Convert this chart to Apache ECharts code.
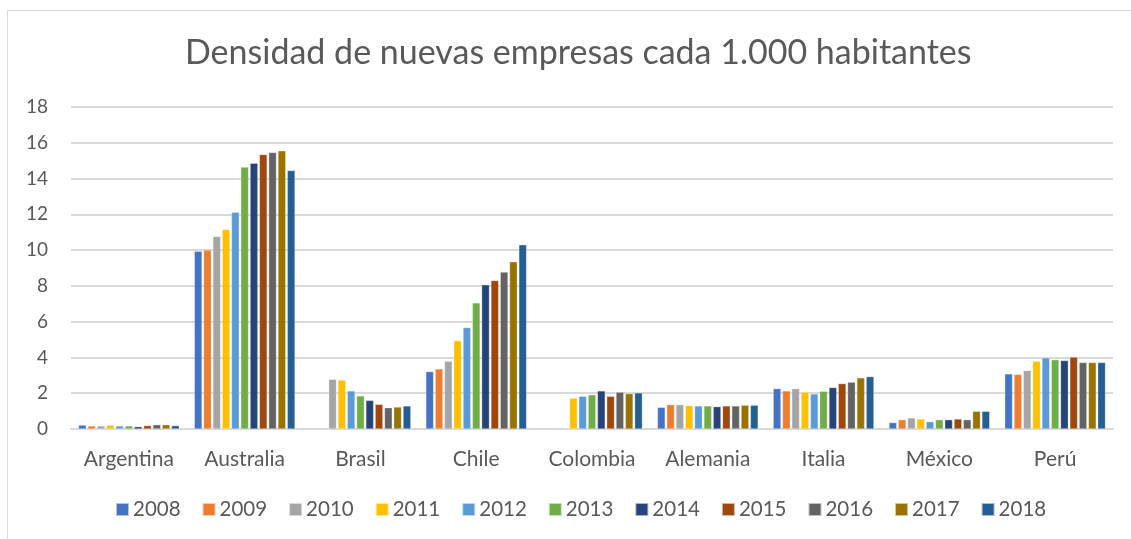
<!DOCTYPE html>
<html>
<head>
<meta charset="utf-8">
<script src="https://cdn.jsdelivr.net/npm/echarts@6/dist/echarts.min.js"></script>
<style>
  html, body { margin: 0; padding: 0; background: #fff; }
  #frame {
    position: absolute; left: 7px; top: 10px; width: 1140px; height: 540px;
    border-top: 1px solid #d9d9d9; border-left: 1px solid #d9d9d9;
  }
  #chart { position: absolute; left: 0; top: 0; width: 1131px; height: 539px; }
</style>
</head>
<body>
<div id="frame"></div>
<div id="chart"></div>
<script>
// Países y años
const countries = ["Argentina", "Australia", "Brasil", "Chile", "Colombia", "Alemania", "Italia", "México", "Perú"];
const years = ["2008", "2009", "2010", "2011", "2012", "2013", "2014", "2015", "2016", "2017", "2018"];
const yearColors = ["#4472C4", "#ED7D31", "#A5A5A5", "#FFC000", "#5B9BD5", "#70AD47",
  "#264478", "#9E480E", "#636363", "#997300", "#255E91"];

// valores por país (2008..2018), null = sin dato
const argentina = [0.22, 0.17, 0.17, 0.22, 0.17, 0.17, 0.13, 0.19, 0.24, 0.24, 0.19];
const australia = [9.94, 10.0, 10.76, 11.15, 12.12, 14.64, 14.86, 15.34, 15.46, 15.55, 14.45];
const brasil = [null, null, 2.78, 2.74, 2.13, 1.85, 1.6, 1.38, 1.19, 1.23, 1.29];
const chile = [3.21, 3.36, 3.79, 4.94, 5.67, 7.05, 8.06, 8.3, 8.77, 9.35, 10.3];
const colombia = [null, null, null, 1.72, 1.83, 1.91, 2.13, 1.83, 2.06, 1.98, 2.02];
const alemania = [1.21, 1.36, 1.36, 1.31, 1.29, 1.29, 1.25, 1.29, 1.29, 1.33, 1.33];
const italia = [2.26, 2.13, 2.26, 2.06, 1.96, 2.11, 2.32, 2.54, 2.62, 2.86, 2.93];
const mexico = [0.36, 0.52, 0.62, 0.56, 0.41, 0.52, 0.52, 0.56, 0.52, 0.99, 0.99];
const peru = [3.08, 3.05, 3.27, 3.79, 3.98, 3.87, 3.83, 4.02, 3.72, 3.72, 3.72];

const byCountry = [argentina, australia, brasil, chile, colombia, alemania, italia, mexico, peru];

const FONT = "Lato";
const TEXT = "#595959";

const chart = echarts.init(document.getElementById("chart"));
const option = {
  animation: false,
  textStyle: { fontFamily: FONT },
  title: {
    text: "Densidad de nuevas empresas cada 1.000 habitantes",
    left: 180,
    top: 31,
    textStyle: { color: TEXT, fontSize: 34, fontWeight: "normal", fontFamily: FONT },
  },
  legend: {
    bottom: 14,
    left: 110,
    itemWidth: 13,
    itemHeight: 13,
    itemGap: 21,
    icon: "rect",
    textStyle: { color: TEXT, fontSize: 20.5, fontFamily: FONT, padding: [0, 0, 0, -1] },
    data: years,
  },
  grid: { left: 71, right: 18, top: 107, bottom: 110 },
  xAxis: {
    type: "category",
    data: countries,
    axisLine: { lineStyle: { color: "#d9d9d9", width: 2 } },
    axisTick: { show: false },
    axisLabel: { color: TEXT, fontSize: 21, fontFamily: FONT, margin: 20, interval: 0 },
  },
  yAxis: {
    type: "value",
    min: 0,
    max: 18,
    interval: 2,
    axisLine: { show: false },
    axisTick: { show: false },
    axisLabel: { color: TEXT, fontSize: 19, fontFamily: FONT, margin: 23 },
    splitLine: { lineStyle: { color: "#d9d9d9", width: 2 } },
  },
  series: years.map(function (y, i) {
    return {
      name: y,
      type: "bar",
      barGap: "20%",
      barCategoryGap: "13%",
      data: byCountry.map(function (c) { return c[i]; }),
      itemStyle: { color: yearColors[i], borderColor: "rgba(255,255,255,0.6)", borderWidth: 0.5 },
    };
  }),
};
chart.setOption(option);
window.addEventListener("resize", function () {
  chart.resize();
});
</script>
</body>
</html>
